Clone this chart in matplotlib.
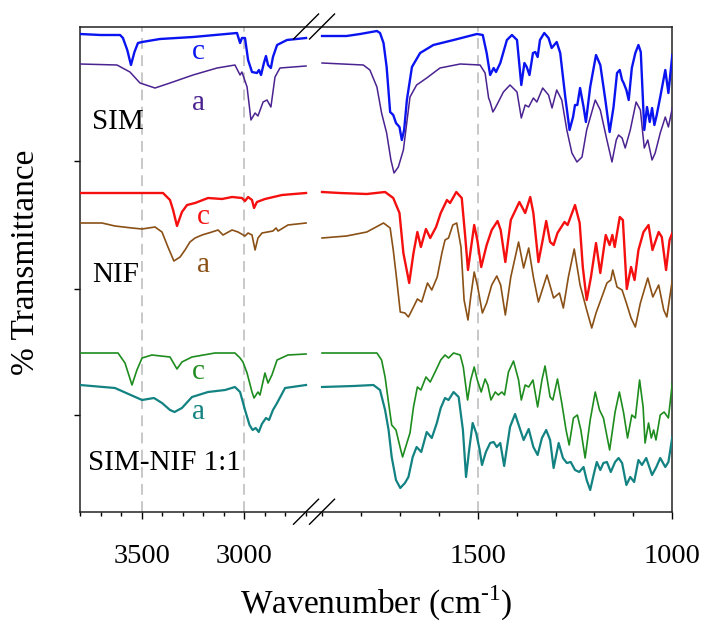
import numpy as np
import matplotlib
matplotlib.use("Agg")
import matplotlib.pyplot as plt

plt.rcParams['font.family'] = ['Liberation Serif', 'DejaVu Serif']
plt.rcParams['mathtext.fontset'] = 'custom'
plt.rcParams['mathtext.rm'] = 'Liberation Serif'

# ---- data: wavenumber (cm-1) and offset transmittance ----
sim_c_w = [3800, 3700, 3605, 3591, 3570, 3552, 3535, 3518, 3498, 3411, 3250, 3036, 3021, 3012, 2997,
           2982, 2963, 2939, 2929, 2919, 2905, 2895, 2885, 2871, 2861, 2841, 2793, 2700,
           1900, 1837, 1802, 1759, 1751, 1742, 1734, 1725, 1717, 1710, 1701, 1695, 1689, 1682,
           1669, 1648, 1614, 1562, 1502, 1487, 1477, 1468, 1459, 1453, 1442, 1425, 1412, 1399,
           1388, 1380, 1374, 1367, 1358, 1352, 1346, 1340, 1329, 1318, 1310, 1297, 1288, 1275,
           1264, 1255, 1250, 1244, 1237, 1228, 1222, 1211, 1196, 1185, 1172, 1161, 1151, 1142,
           1135, 1129, 1125, 1118, 1112, 1104, 1095, 1087, 1081, 1072, 1065, 1058, 1052, 1046,
           1040, 1031, 1018, 1010, 1000]
sim_c_t = [478, 477, 477, 474, 462, 447, 460, 469, 470, 473, 475, 479, 469, 474, 474,
           452, 440, 439, 442, 437, 449, 456, 447, 444, 455, 467, 472, 474,
           476, 476, 478, 481, 479, 469, 445, 400, 397, 389, 385, 372, 382, 412,
           445, 459, 467, 472, 478, 477, 459, 437, 444, 440, 449, 472, 477, 472,
           427, 449, 445, 437, 459, 460, 455, 472, 479, 474, 464, 470, 459, 415,
           382, 395, 407, 407, 424, 405, 390, 425, 457, 447, 412, 380, 405, 439,
           442, 432, 429, 422, 412, 444, 459, 467, 460, 382, 405, 390, 404, 387,
           397, 415, 442, 419, 457]

sim_a_w = [3800, 3620, 3557, 3508, 3435, 3362, 3250, 3133, 3046, 3021, 3012, 2987, 2968, 2948,
           2934, 2909, 2890, 2871, 2851, 2827, 2700,
           1900, 1794, 1777, 1759, 1747, 1734, 1723, 1715, 1704, 1691, 1674, 1657, 1631, 1597,
           1545, 1494, 1481, 1472, 1468, 1461, 1455, 1447, 1434, 1417, 1399, 1388, 1378, 1369,
           1357, 1348, 1333, 1318, 1309, 1297, 1284, 1271, 1258, 1245, 1232, 1220, 1198, 1185,
           1168, 1155, 1144, 1138, 1129, 1121, 1108, 1093, 1082, 1072, 1063, 1052, 1044, 1031,
           1018, 1010, 1000]
sim_a_t = [448, 447, 440, 429, 424, 429, 437, 444, 447, 437, 440, 425, 392, 399,
           396, 410, 412, 405, 435, 444, 446,
           449, 447, 442, 425, 399, 379, 352, 339, 345, 362, 415, 427, 434, 444,
           448, 447, 439, 414, 410, 400, 404, 410, 420, 427, 420, 394, 407, 405,
           414, 410, 424, 417, 404, 422, 412, 382, 359, 350, 355, 382, 412, 402,
           372, 350, 372, 377, 374, 364, 382, 410, 402, 364, 372, 352, 359, 379,
           395, 385, 404]

nif_c_w = [3800, 3600, 3396, 3362, 3347, 3328, 3304, 3279, 3240, 3177, 3109, 3060, 3012, 2997,
           2982, 2963, 2953, 2939, 2900, 2817, 2700,
           1900, 1854, 1785, 1738, 1717, 1701, 1691, 1676, 1665, 1655, 1646, 1633, 1622, 1607,
           1595, 1579, 1571, 1555, 1541, 1532, 1525, 1518, 1509, 1501, 1491, 1477, 1464, 1449,
           1441, 1429, 1415, 1393, 1378, 1365, 1357, 1344, 1333, 1324, 1314, 1305, 1295, 1277,
           1269, 1250, 1238, 1230, 1220, 1209, 1196, 1185, 1171, 1161, 1154, 1148, 1135, 1127,
           1117, 1106, 1097, 1087, 1074, 1061, 1051, 1035, 1027, 1016, 1007, 1000]
nif_c_t = [319, 319, 319, 312, 302, 286, 300, 307, 309, 314, 313, 315, 314, 311,
           315, 312, 304, 310, 313, 317, 319,
           320, 319, 318, 320, 314, 299, 259, 229, 259, 280, 265, 283, 274, 285,
           299, 312, 309, 320, 314, 275, 242, 262, 287, 272, 245, 267, 282, 291,
           282, 250, 292, 310, 299, 315, 299, 250, 272, 291, 270, 267, 279, 290,
           287, 307, 289, 245, 212, 235, 269, 239, 277, 267, 277, 265, 295, 292,
           223, 245, 232, 262, 280, 287, 262, 280, 275, 242, 272, 279]

nif_a_w = [3800, 3693, 3630, 3547, 3498, 3435, 3401, 3372, 3343, 3313, 3289, 3265, 3240, 3206,
           3158, 3128, 3104, 3060, 3031, 2997, 2982, 2963, 2948, 2934, 2914, 2861, 2846, 2836,
           2788, 2700,
           1900, 1837, 1785, 1742, 1725, 1717, 1708, 1699, 1687, 1678, 1665, 1655, 1644, 1629,
           1618, 1604, 1592, 1584, 1575, 1564, 1554, 1543, 1535, 1525, 1518, 1509, 1501, 1488,
           1477, 1464, 1451, 1441, 1429, 1415, 1395, 1382, 1369, 1357, 1344, 1322, 1305, 1290,
           1280, 1267, 1252, 1237, 1220, 1207, 1196, 1181, 1168, 1158, 1153, 1142, 1129, 1118,
           1106, 1095, 1082, 1063, 1050, 1035, 1022, 1014, 1000]
nif_a_t = [289, 289, 286, 284, 283, 285, 280, 265, 251, 255, 262, 270, 274, 277,
           280, 282, 277, 282, 280, 276, 279, 277, 262, 274, 279, 281, 284, 281,
           287, 289,
           274, 276, 280, 289, 284, 262, 232, 200, 199, 195, 205, 213, 210, 229,
           222, 235, 259, 272, 274, 287, 289, 265, 212, 192, 215, 240, 227, 199,
           209, 227, 236, 227, 197, 235, 270, 244, 264, 235, 210, 237, 214, 219,
           204, 235, 263, 227, 202, 184, 199, 215, 229, 232, 242, 225, 222, 209,
           194, 185, 209, 234, 215, 227, 202, 195, 232]

mix_c_w = [3800, 3615, 3581, 3547, 3523, 3498, 3450, 3362, 3328, 3304, 3255, 3143, 3046, 3021,
           3007, 2987, 2963, 2953, 2934, 2924, 2900, 2885, 2866, 2841, 2788, 2700,
           1900, 1819, 1759, 1747, 1738, 1729, 1721, 1710, 1699, 1693, 1682, 1674, 1665, 1655,
           1646, 1633, 1622, 1607, 1595, 1584, 1575, 1562, 1545, 1537, 1526, 1518, 1509, 1501,
           1491, 1481, 1474, 1466, 1455, 1447, 1438, 1431, 1421, 1408, 1395, 1388, 1378, 1369,
           1358, 1346, 1335, 1327, 1314, 1307, 1295, 1284, 1273, 1265, 1254, 1244, 1235, 1224,
           1211, 1198, 1187, 1177, 1161, 1147, 1136, 1125, 1115, 1104, 1095, 1084, 1075, 1070,
           1061, 1054, 1048, 1042, 1031, 1021, 1010, 1000]
mix_c_t = [159, 159, 149, 127, 142, 154, 157, 155, 143, 150, 155, 159, 159, 154,
           150, 139, 120, 114, 120, 117, 139, 129, 137, 152, 157, 158,
           159, 159, 159, 152, 135, 109, 87, 82, 64, 55, 69, 79, 105, 125,
           122, 135, 130, 142, 152, 157, 154, 159, 157, 145, 112, 132, 145, 132,
           120, 133, 127, 112, 120, 117, 120, 117, 140, 151, 132, 112, 127, 125,
           132, 105, 132, 146, 115, 112, 133, 109, 82, 67, 94, 97, 82, 54,
           92, 120, 102, 94, 62, 100, 120, 99, 74, 97, 94, 132, 105, 69,
           89, 74, 82, 72, 97, 100, 94, 129]

mix_a_w = [3800, 3630, 3498, 3440, 3401, 3362, 3340, 3304, 3255, 3177, 3094, 3046, 3021, 2997,
           2975, 2960, 2945, 2930, 2915, 2895, 2880, 2861, 2841, 2802, 2700,
           1900, 1819, 1768, 1751, 1738, 1729, 1721, 1710, 1699, 1687, 1678, 1667, 1657, 1645,
           1631, 1618, 1605, 1595, 1584, 1575, 1562, 1549, 1538, 1530, 1522, 1513, 1504, 1495,
           1489, 1479, 1468, 1459, 1451, 1442, 1432, 1417, 1404, 1393, 1382, 1369, 1357, 1346,
           1335, 1324, 1314, 1305, 1292, 1281, 1271, 1261, 1250, 1239, 1228, 1220, 1211, 1201,
           1194, 1185, 1177, 1168, 1158, 1147, 1138, 1129, 1118, 1108, 1098, 1087, 1078, 1067,
           1052, 1041, 1031, 1018, 1010, 1000]
mix_a_t = [127, 124, 112, 114, 109, 102, 100, 104, 115, 120, 122, 125, 120, 102,
           87, 82, 84, 80, 88, 94, 92, 102, 109, 124, 127,
           125, 126, 127, 122, 102, 82, 55, 32, 24, 29, 35, 55, 65, 60,
           80, 74, 89, 104, 114, 112, 120, 115, 82, 35, 62, 89, 79, 62,
           47, 60, 69, 70, 65, 69, 46, 85, 98, 85, 72, 83, 65, 57,
           74, 82, 72, 44, 69, 54, 49, 50, 42, 40, 45, 32, 22, 39,
           50, 42, 49, 50, 40, 50, 54, 49, 27, 35, 30, 52, 47, 54,
           37, 45, 54, 45, 50, 75]

guide_lines = [3500, 3000, 1500]
major_ticks = [3500, 3000, 1500, 1000]
minor_ticks = [3800, 3700, 3600, 3400, 3300, 3200, 3100, 2900, 2800, 2700,
               1900, 1800, 1700, 1600, 1400, 1300, 1200, 1100]


# broken wavenumber axis: 3800-2700 and 1900-1000 with a short gap between them
def fwd(w):
    w = np.asarray(w, dtype=float)
    return np.where(w >= 2700, 1941.1 + (w - 2700) * 0.528,
                    np.where(w <= 1900, w, 1900 + (w - 1900) * 0.0514))


def inv(f):
    f = np.asarray(f, dtype=float)
    return np.where(f >= 1941.1, 2700 + (f - 1941.1) / 0.528,
                    np.where(f <= 1900, f, 1900 + (f - 1900) / 0.0514))


fig = plt.figure(figsize=(7.08, 6.29), dpi=100)
ax = fig.add_axes([80 / 708, 1 - 511.7 / 629, 592.3 / 708, 485.2 / 629])
ax.set_xscale('function', functions=(fwd, inv))

for g in guide_lines:
    ax.axvline(g, color='#c4c4c4', lw=1.3, dashes=(6, 3.5), zorder=1)

curves = [
    (sim_c_w, sim_c_t, '#0a14f0', 1.7),
    (sim_a_w, sim_a_t, '#4b2391', 1.1),
    (nif_c_w, nif_c_t, '#f50f0f', 1.7),
    (nif_a_w, nif_a_t, '#8a5016', 1.2),
    (mix_c_w, mix_c_t, '#1e8c1e', 1.2),
    (mix_a_w, mix_a_t, '#138282', 1.6),
]
for w, t, col, lw in curves:
    w = np.array(w)
    t = np.array(t)
    hi = w >= 2700
    lo = w <= 1900
    ax.plot(w[hi], t[hi], color=col, lw=lw, zorder=3)
    ax.plot(w[lo], t[lo], color=col, lw=lw, zorder=3)

# labels
fs = 21
ax.text(3226, 460, 'c', color='#0a14f0', fontsize=fs, ha='center', va='center')
ax.text(3221, 409, 'a', color='#4b2391', fontsize=fs, ha='center', va='center')
ax.text(3742, 390, 'SIM', color='black', fontsize=fs, ha='left', va='center')
ax.text(3201, 295, 'c', color='#f50f0f', fontsize=fs, ha='center', va='center')
ax.text(3201, 247, 'a', color='#8a5016', fontsize=fs, ha='center', va='center')
ax.text(3742, 237, 'NIF', color='black', fontsize=fs, ha='left', va='center')
ax.text(3226, 140, 'c', color='#1e8c1e', fontsize=fs, ha='center', va='center')
ax.text(3221, 100, 'a', color='#138282', fontsize=fs, ha='center', va='center')
ax.text(3760, 49, 'SIM-NIF 1:1', color='black', fontsize=fs, ha='left', va='center')

ax.set_xlim(3800, 1000)
ax.set_ylim(0.3, 485.5)
ax.set_xticks(major_ticks)
ax.set_xticklabels([str(v) for v in major_ticks])
ax.set_xticks(minor_ticks, minor=True)
ax.set_yticks([96.7, 223.3, 351.3])
ax.set_yticklabels([])
ax.tick_params(axis='x', which='major', direction='out', length=5, width=1, labelsize=20.5, pad=18)
ax.tick_params(axis='x', which='minor', direction='out', length=3, width=1)
ax.tick_params(axis='y', which='major', direction='out', length=4.5, width=1, left=True, right=False)
ax.tick_params(axis='y', which='minor', left=False, right=False)

for s in ax.spines.values():
    s.set_linewidth(1.1)
    s.set_color('#222222')

ax.set_xlabel(r'Wavenumber (cm$^{\text{-1}}$)', fontsize=24, labelpad=11)
ax.set_ylabel('% Transmittance', fontsize=24)
ax.yaxis.set_label_coords(-0.066, 0.513)

# break marks on the top and bottom axis lines
f0 = fwd(3800)
f1 = fwd(1000)
dx = 12.5 / 592.3
dy = 12.5 / 485.2
for wb in (2700, 1900):
    fx = float((f0 - fwd(wb)) / (f0 - f1))
    for yb in (0, 1):
        ax.plot([fx - dx, fx + dx], [yb - dy, yb + dy], transform=ax.transAxes,
                color='black', lw=1.0, clip_on=False, zorder=5)

plt.savefig('out.png', dpi=100)
